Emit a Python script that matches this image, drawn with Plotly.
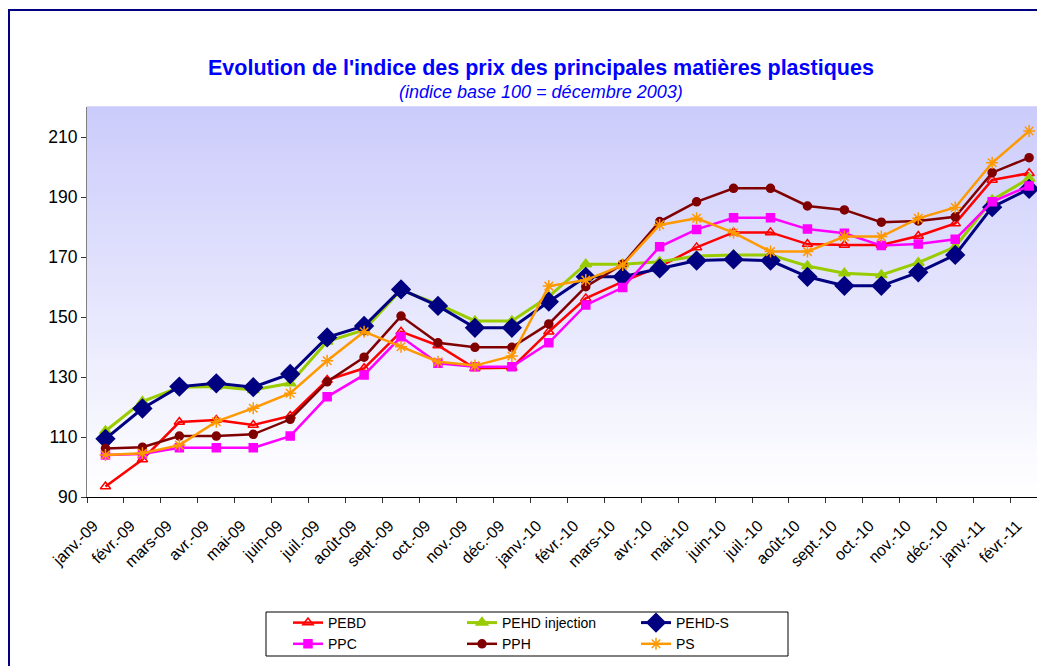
import plotly.graph_objects as go

months = ["janv.-09", "févr.-09", "mars-09", "avr.-09", "mai-09", "juin-09", "juil.-09",
          "août-09", "sept.-09", "oct.-09", "nov.-09", "déc.-09", "janv.-10", "févr.-10",
          "mars-10", "avr.-10", "mai-10", "juin-10", "juil.-10", "août-10", "sept.-10",
          "oct.-10", "nov.-10", "déc.-10", "janv.-11", "févr.-11"]

pebd = [93.5, 102.5, 115, 115.7, 114, 117, 129, 132.9, 145.1, 140.5, 132.9, 133.1, 145.1,
        156.2, 161.8, 166.8, 173.2, 178.2, 178.2, 174.3, 174, 174, 177, 181.2, 195.7, 197.9]
pehd_inj = [112, 121.8, 126.6, 126.8, 125.7, 127.9, 141.8, 145.7, 159, 154.3, 148.7, 148.7,
            156.8, 167.6, 167.6, 168.4, 170.3, 170.7, 170.7, 167, 164.6, 164, 168.1, 173.4,
            189, 196.2]
pehd_s = [109.4, 119.5, 126.8, 127.9, 126.6, 131, 143.2, 147, 159.2, 153.7, 146.4, 146.4,
          155.1, 163.4, 163.4, 166.2, 168.8, 169.2, 168.8, 163.4, 160.4, 160.4, 164.9, 170.7,
          186.6, 192.7]
ppc = [104, 104.3, 106.4, 106.4, 106.4, 110.3, 123.4, 130.7, 143.4, 134.6, 133.4, 133.4,
       141.4, 154, 159.8, 173.4, 179.2, 183.1, 183.1, 179.3, 177.9, 173.8, 174.3, 175.9,
       188.4, 193.7]
pph = [106.2, 106.6, 110.3, 110.3, 110.9, 115.9, 128.4, 136.6, 150.3, 141.4, 139.9, 139.9,
       147.7, 160.1, 167.6, 181.8, 188.4, 192.9, 192.9, 187, 185.7, 181.6, 182, 183.4,
       198.1, 203.1]
ps = [104, 104.6, 107.3, 115.1, 119.6, 124.6, 135.4, 145.1, 140.1, 135.1, 133.8, 137,
      160.3, 162.3, 167.3, 180.7, 182.9, 178.1, 171.8, 171.8, 176.8, 176.8, 182.9, 186.5,
      201.4, 212]

y_ticks = [90, 110, 130, 150, 170, 190, 210]

FONT = "Arial, Liberation Sans, sans-serif"

fig = go.Figure()

series = [
    ("PEBD", pebd, "#FF0000", "triangle-up-open", 9, 2.5, "legend"),
    ("PEHD injection", pehd_inj, "#99CC00", "triangle-up", 10, 3, "legend2"),
    ("PEHD-S", pehd_s, "#000080", "diamond", 14, 3, "legend3"),
    ("PPC", ppc, "#FF00FF", "square", 8, 2.5, "legend"),
    ("PPH", pph, "#800000", "circle", 8, 2.5, "legend2"),
    ("PS", ps, "#FF9900", "asterisk-open", 10, 2.5, "legend3"),
]

for name, vals, color, sym, size, lw, leg in series:
    fig.add_trace(go.Scatter(
        x=months, y=vals, name=name, mode="lines+markers",
        line=dict(color=color, width=lw),
        marker=dict(symbol=sym, size=size, color=color,
                    line=dict(color=color, width=1.5)),
        legend=leg,
    ))

# gradient background of plot area
N = 60
top = (204, 204, 252)
for i in range(N):
    t = i / (N - 1)  # 0 bottom -> 1 top
    r = int(round(255 + (top[0] - 255) * t))
    g = int(round(255 + (top[1] - 255) * t))
    b = int(round(255 + (top[2] - 255) * t))
    fig.add_shape(type="rect", xref="paper", yref="paper",
                  x0=0, x1=1, y0=i / N, y1=(i + 1) / N + 0.002,
                  fillcolor=f"rgb({r},{g},{b})", line=dict(width=0), layer="below")

# legend box
fig.add_shape(type="rect", xref="paper", yref="paper",
              x0=(266 - 87) / 958, x1=(788 - 87) / 958,
              y0=(497 - 612) / 390, y1=(497 - 656) / 390,
              line=dict(color="#000000", width=1), fillcolor="rgba(0,0,0,0)")

# outer chart border
fig.add_shape(type="rect", xref="paper", yref="paper",
              x0=(9 - 87) / 958, x1=1.02, y0=(497 - 10) / 390, y1=-0.47,
              line=dict(color="#000080", width=2), fillcolor="rgba(0,0,0,0)")

fig.add_annotation(text="<b>Evolution de l'indice des prix des principales matières plastiques</b>",
                   xref="paper", yref="paper", x=(541 - 87) / 958, y=(497 - 68) / 390,
                   showarrow=False,
                   font=dict(family=FONT, size=21.5, color="#0000FF"),
                   xanchor="center", yanchor="middle")
fig.add_annotation(text="<i>(indice base 100 = décembre 2003)</i>",
                   xref="paper", yref="paper", x=(541 - 87) / 958, y=(497 - 92) / 390,
                   showarrow=False,
                   font=dict(family=FONT, size=18, color="#0000FF"),
                   xanchor="center", yanchor="middle")

leg_common = dict(orientation="v", yanchor="top", xanchor="left", y=(497 - 607) / 390,
                  bgcolor="rgba(0,0,0,0)", borderwidth=0, itemsizing="trace",
                  font=dict(family=FONT, size=14, color="#000000"), tracegroupgap=0)

fig.update_layout(
    width=1037, height=658,
    margin=dict(l=79, r=0, t=99, b=169),
    paper_bgcolor="white", plot_bgcolor="rgba(0,0,0,0)",
    font=dict(family=FONT, size=14, color="#000000"),
    showlegend=True,
    legend=dict(x=(288 - 87) / 958, **leg_common),
    legend2=dict(x=(462 - 87) / 958, **leg_common),
    legend3=dict(x=(636 - 87) / 958, **leg_common),
    xaxis=dict(type="category", range=[-0.5, 25.43], showgrid=False,
               showline=True, linecolor="#000000", linewidth=1,
               ticks="outside", tickson="boundaries", ticklen=5, tickcolor="#333333",
               tickangle=-45, ticklabelshift=-12, ticklabelstandoff=12,
               tickfont=dict(family=FONT, size=16, color="#000000"),
               zeroline=False),
    yaxis=dict(range=[90, 220], tickvals=y_ticks, showgrid=False,
               showline=True, linecolor="#808080", linewidth=1,
               ticks="outside", ticklen=5, tickcolor="#333333",
               tickfont=dict(family=FONT, size=17.5, color="#000000"), zeroline=False),
)

fig.write_html("out.html")
